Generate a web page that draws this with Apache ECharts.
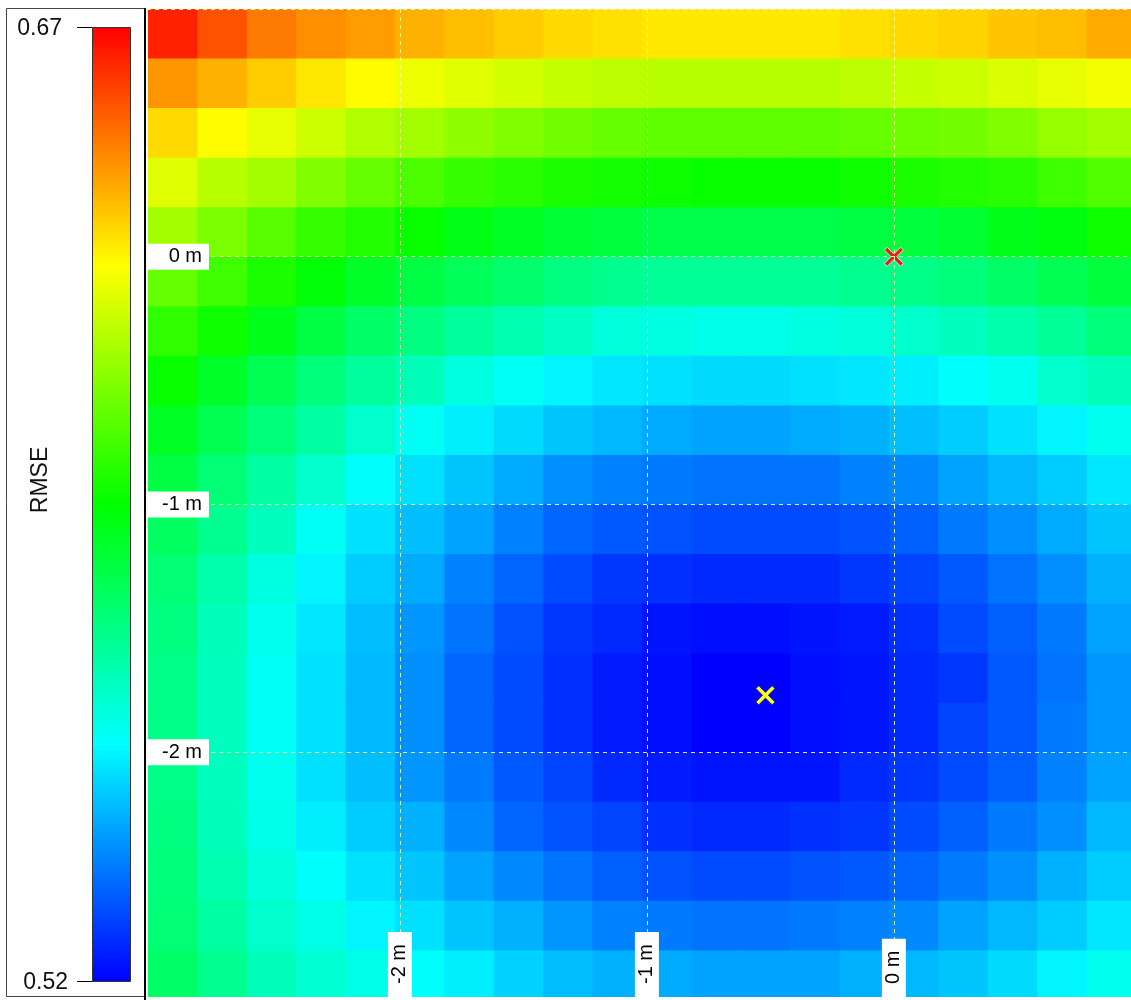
<!DOCTYPE html>
<html>
<head>
<meta charset="utf-8">
<title>RMSE map</title>
<script src="https://cdn.jsdelivr.net/npm/echarts@6/dist/echarts.min.js"></script>
<style>
  html, body { margin: 0; padding: 0; background: #fff; }
  #chart { width: 1131px; height: 1000px; }
</style>
</head>
<body>
<div id="chart"></div>
<script>
// sample points of the RMSE map (metres)
const xCenters = [-2.92, -2.72, -2.52, -2.32, -2.12, -1.92, -1.72, -1.52, -1.32, -1.12,
  -0.92, -0.72, -0.52, -0.32, -0.12, 0.08, 0.28, 0.48, 0.68, 0.88];
const yCenters = [0.9, 0.7, 0.5, 0.3, 0.1, -0.1, -0.3, -0.5, -0.7, -0.9,
  -1.1, -1.3, -1.5, -1.7, -1.9, -2.1, -2.3, -2.5, -2.7, -2.9];

// one row per yCenters entry, one value per xCenters entry
const rmseRows = [
  [0.665, 0.658, 0.652, 0.649, 0.647, 0.644, 0.642, 0.640, 0.638, 0.637, 0.636, 0.636, 0.636, 0.636, 0.637, 0.638, 0.639, 0.641, 0.642, 0.645],
  [0.648, 0.644, 0.640, 0.636, 0.633, 0.630, 0.628, 0.626, 0.624, 0.623, 0.622, 0.622, 0.622, 0.622, 0.623, 0.624, 0.625, 0.627, 0.629, 0.631],
  [0.638, 0.633, 0.629, 0.625, 0.621, 0.619, 0.616, 0.614, 0.612, 0.610, 0.609, 0.609, 0.609, 0.609, 0.610, 0.611, 0.612, 0.614, 0.617, 0.619],
  [0.628, 0.622, 0.619, 0.614, 0.610, 0.606, 0.603, 0.601, 0.599, 0.598, 0.597, 0.596, 0.596, 0.596, 0.597, 0.599, 0.600, 0.601, 0.604, 0.607],
  [0.619, 0.613, 0.608, 0.603, 0.600, 0.596, 0.592, 0.590, 0.587, 0.586, 0.584, 0.584, 0.584, 0.584, 0.585, 0.586, 0.588, 0.591, 0.593, 0.597],
  [0.610, 0.604, 0.599, 0.594, 0.589, 0.585, 0.582, 0.579, 0.576, 0.574, 0.573, 0.573, 0.573, 0.573, 0.574, 0.575, 0.577, 0.580, 0.583, 0.586],
  [0.602, 0.597, 0.591, 0.585, 0.580, 0.576, 0.572, 0.569, 0.566, 0.563, 0.562, 0.561, 0.561, 0.562, 0.563, 0.565, 0.567, 0.570, 0.573, 0.577],
  [0.596, 0.589, 0.583, 0.577, 0.572, 0.568, 0.562, 0.559, 0.556, 0.554, 0.553, 0.552, 0.552, 0.553, 0.554, 0.555, 0.558, 0.560, 0.565, 0.568],
  [0.590, 0.583, 0.577, 0.571, 0.565, 0.559, 0.555, 0.552, 0.549, 0.547, 0.545, 0.544, 0.544, 0.545, 0.546, 0.548, 0.550, 0.553, 0.556, 0.560],
  [0.585, 0.578, 0.571, 0.565, 0.558, 0.553, 0.549, 0.545, 0.541, 0.539, 0.538, 0.537, 0.537, 0.537, 0.539, 0.540, 0.544, 0.547, 0.550, 0.554],
  [0.581, 0.574, 0.567, 0.559, 0.553, 0.548, 0.544, 0.539, 0.535, 0.533, 0.532, 0.531, 0.531, 0.531, 0.532, 0.534, 0.538, 0.541, 0.545, 0.549],
  [0.578, 0.570, 0.562, 0.556, 0.550, 0.545, 0.539, 0.535, 0.531, 0.528, 0.527, 0.526, 0.526, 0.526, 0.528, 0.530, 0.533, 0.537, 0.541, 0.546],
  [0.576, 0.568, 0.560, 0.554, 0.548, 0.542, 0.537, 0.532, 0.528, 0.526, 0.523, 0.522, 0.522, 0.523, 0.524, 0.527, 0.531, 0.534, 0.538, 0.544],
  [0.575, 0.567, 0.559, 0.553, 0.547, 0.541, 0.535, 0.531, 0.527, 0.524, 0.522, 0.520, 0.520, 0.522, 0.523, 0.526, 0.528, 0.533, 0.537, 0.542],
  [0.575, 0.567, 0.559, 0.553, 0.547, 0.541, 0.535, 0.531, 0.527, 0.524, 0.522, 0.520, 0.520, 0.522, 0.523, 0.526, 0.530, 0.533, 0.538, 0.542],
  [0.575, 0.567, 0.560, 0.553, 0.548, 0.542, 0.538, 0.533, 0.530, 0.526, 0.524, 0.523, 0.523, 0.523, 0.526, 0.528, 0.531, 0.534, 0.539, 0.544],
  [0.576, 0.568, 0.561, 0.555, 0.550, 0.546, 0.540, 0.535, 0.532, 0.530, 0.527, 0.526, 0.526, 0.527, 0.528, 0.531, 0.534, 0.538, 0.541, 0.547],
  [0.577, 0.569, 0.563, 0.558, 0.553, 0.549, 0.544, 0.540, 0.537, 0.534, 0.532, 0.531, 0.531, 0.532, 0.533, 0.535, 0.538, 0.541, 0.546, 0.550],
  [0.578, 0.571, 0.565, 0.561, 0.556, 0.553, 0.549, 0.546, 0.542, 0.539, 0.538, 0.537, 0.537, 0.538, 0.539, 0.540, 0.544, 0.547, 0.550, 0.554],
  [0.580, 0.574, 0.568, 0.564, 0.561, 0.558, 0.555, 0.551, 0.548, 0.546, 0.545, 0.544, 0.544, 0.544, 0.546, 0.547, 0.549, 0.552, 0.556, 0.560],
];

const rmseMin = 0.52;
const rmseMax = 0.67;

const bestPoint = [-0.52, -1.77];   // yellow cross
const refPoint = [0, 0];            // red cross

const xTicks = [-2, -1, 0];
const yTicks = [0, -1, -2];
const gridX = [-2, -1, 0];
const gridY = [1, 0, -1, -2];

const FONT = "'Liberation Sans', Arial, sans-serif";
const HALF = 0.1; // half cell size in metres

const cells = [];
yCenters.forEach((y, i) => {
  xCenters.forEach((x, j) => {
    cells.push([x, y, rmseRows[i][j]]);
  });
});

function renderCell(params, api) {
  const x = api.value(0);
  const y = api.value(1);
  const p0 = api.coord([x - HALF, y + HALF]);
  const p1 = api.coord([x + HALF, y - HALF]);
  const shape = echarts.graphic.clipRectByRect(
    { x: p0[0], y: p0[1], width: p1[0] - p0[0] + 1, height: p1[1] - p0[1] + 1 },
    { x: params.coordSys.x, y: params.coordSys.y, width: params.coordSys.width, height: params.coordSys.height }
  );
  return shape && { type: 'rect', shape: shape, style: { fill: api.visual('color') } };
}

const cross = 'path://M0,3 L3,0 L10,7 L17,0 L20,3 L13,10 L20,17 L17,20 L10,13 L3,20 L0,17 L7,10 Z';

const chart = echarts.init(document.getElementById('chart'), null, { renderer: 'canvas' });

const option = {
  animation: false,
  backgroundColor: '#fff',
  textStyle: { fontFamily: FONT },
  grid: { left: 147, top: 8, width: 984, height: 992 },
  xAxis: {
    type: 'value',
    min: -3.024,
    max: 0.96,
    z: 10,
    axisLine: { show: false },
    axisTick: { show: false },
    splitLine: { show: false },
    axisLabel: {
      customValues: xTicks,
      inside: true,
      rotate: 90,
      margin: 0,
      formatter: (v) => '{t|' + v + ' m}',
      rich: {
        t: { fontFamily: FONT, fontSize: 20, color: '#000', backgroundColor: '#fff', padding: [2, 12, 2, 13], lineHeight: 20 },
      },
    },
  },
  yAxis: {
    type: 'value',
    min: -2.988,
    max: 1.004,
    z: 10,
    axisLine: { show: false },
    axisTick: { show: false },
    splitLine: { show: false },
    axisLabel: {
      customValues: yTicks,
      inside: true,
      margin: 1,
      formatter: (v) => '{t|' + v + ' m}',
      rich: {
        t: { fontFamily: FONT, fontSize: 20, color: '#000', backgroundColor: '#fff', width: 47, align: 'right', padding: [3, 7, 3, 7], lineHeight: 20 },
      },
    },
  },
  visualMap: {
    type: 'continuous',
    min: rmseMin,
    max: rmseMax,
    dimension: 2,
    seriesIndex: 0,
    left: 92,
    top: 27,
    padding: 0,
    itemWidth: 39,
    itemHeight: 955,
    calculable: false,
    hoverLink: false,
    text: null,
    showLabel: false,
    inRange: { color: ['#0000ff', '#00ffff', '#00ff00', '#ffff00', '#ff0000'] },
  },
  graphic: [
    { type: 'rect', silent: true, z: 100, shape: { x: 6.5, y: 8.5, width: 138, height: 988 }, style: { fill: 'none', stroke: '#444', lineWidth: 1 } },
    { type: 'line', silent: true, z: 100, shape: { x1: 145, y1: 8, x2: 145, y2: 1000 }, style: { stroke: '#000', lineWidth: 2 } },
    { type: 'rect', silent: true, z: 100, shape: { x: 92.5, y: 27.5, width: 38, height: 954 }, style: { fill: 'none', stroke: '#333', lineWidth: 1 } },
    { type: 'line', silent: true, z: 100, shape: { x1: 77, y1: 27.5, x2: 92, y2: 27.5 }, style: { stroke: '#000', lineWidth: 1 } },
    { type: 'line', silent: true, z: 100, shape: { x1: 77, y1: 981.5, x2: 92, y2: 981.5 }, style: { stroke: '#000', lineWidth: 1 } },
    { type: 'text', silent: true, z: 100, x: 62, y: 29, style: { text: rmseMax.toFixed(2), fontFamily: FONT, fontSize: 23, fill: '#111', align: 'right', verticalAlign: 'middle' } },
    { type: 'text', silent: true, z: 100, x: 68, y: 983, style: { text: rmseMin.toFixed(2), fontFamily: FONT, fontSize: 23, fill: '#111', align: 'right', verticalAlign: 'middle' } },
    { type: 'text', silent: true, z: 100, x: 41, y: 480, rotation: Math.PI / 2, style: { text: 'RMSE', fontFamily: FONT, fontSize: 23, fill: '#111', align: 'center', verticalAlign: 'middle' } },
  ],
  series: [
    {
      type: 'custom',
      renderItem: renderCell,
      data: cells,
      encode: { x: 0, y: 1 },
      z: 1,
      silent: true,
    },
    {
      type: 'scatter',
      z: 3,
      silent: true,
      data: [refPoint],
      symbol: cross,
      symbolSize: 19,
      itemStyle: { color: '#dc2424', opacity: 1, borderColor: 'rgba(255,225,225,0.9)', borderWidth: 1 },
      markLine: {
        silent: true,
        symbol: ['none', 'none'],
        label: { show: false },
        lineStyle: { color: 'rgba(255,255,160,0.9)', type: [4, 4], width: 1 },
        data: gridX.map((v) => ({ xAxis: v })).concat(gridY.map((v) => ({ yAxis: v }))),
      },
    },
    {
      type: 'scatter',
      z: 3,
      silent: true,
      data: [bestPoint],
      symbol: cross,
      symbolSize: 19,
      itemStyle: { color: '#ffff1a', opacity: 1, borderColor: '#20208a', borderWidth: 0.8 },
    },
  ],
};

chart.setOption(option);
</script>
</body>
</html>
